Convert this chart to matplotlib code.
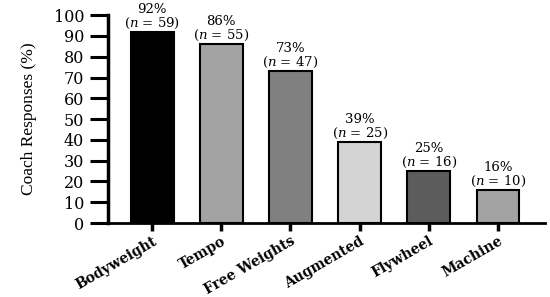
import matplotlib
matplotlib.use("Agg")
import matplotlib.pyplot as plt

categories = ["Bodyweight", "Tempo", "Free Weights", "Augmented", "Flywheel", "Machine"]
percent = [92, 86, 73, 39, 25, 16]
counts = [59, 55, 47, 25, 16, 10]
colors = ["#000000", "#a3a3a3", "#808080", "#d4d4d4", "#5c5c5c", "#a3a3a3"]

plt.rcParams['font.family'] = ['DejaVu Serif']
plt.rcParams['mathtext.fontset'] = 'dejavuserif'

fig = plt.figure(figsize=(5.5, 2.97), dpi=100)
ax = fig.add_axes([0.196, 0.249, 0.795, 0.70])

x = list(range(len(categories)))
ax.bar(x, percent, width=0.62, color=colors, edgecolor="black", linewidth=1.5, zorder=2)

for xi, p, n in zip(x, percent, counts):
    ax.text(xi, p + 0.5, f"{p}%\n($n$ = {n})", ha="center", va="bottom",
            fontsize=9.5, linespacing=1.0)

ax.set_xlim(-0.64, 5.68)
ax.set_ylim(0, 100)
ax.set_yticks(range(0, 101, 10))
ax.tick_params(axis="y", length=13, width=2.2, labelsize=11.5, pad=4)
ax.tick_params(axis="x", length=6, width=2.5, labelsize=10, pad=2)
ax.set_xticks(x)
ax.set_xticklabels(categories, rotation=30, ha="right", rotation_mode="anchor", fontweight="bold")

for s in ["top", "right"]:
    ax.spines[s].set_visible(False)
ax.spines["left"].set_linewidth(2.5)
ax.spines["bottom"].set_linewidth(2.0)

ax.set_ylabel("Coach Responses (%)", fontsize=12.5, family="Liberation Serif", labelpad=12)

fig.savefig("out.png", dpi=100)
